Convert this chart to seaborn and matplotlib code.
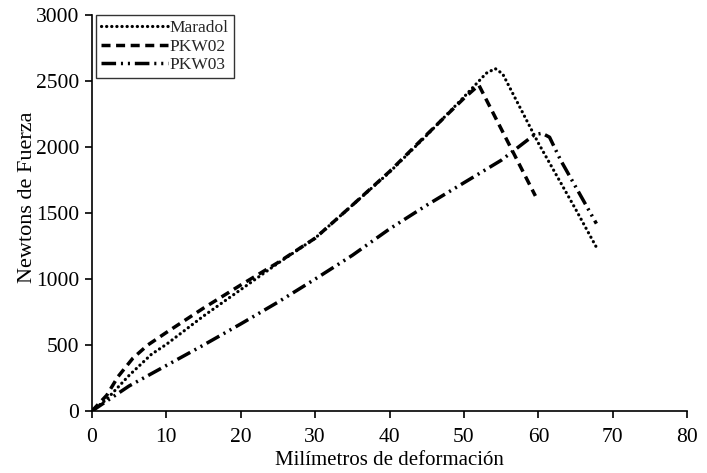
import matplotlib
matplotlib.use("Agg")
import matplotlib.pyplot as plt
import seaborn as sns
import pandas as pd

# Data
maradol_x = [0, 2, 5, 8, 10, 15, 20, 25, 30, 35, 40, 45, 50, 53, 54.2, 55.2, 60, 65, 68]
maradol_y = [0, 90, 270, 430, 505, 720, 920, 1120, 1310, 1560, 1810, 2090, 2380, 2560, 2595, 2555, 2030, 1530, 1220]

pkw02_x = [0, 2, 3.5, 5.5, 7.5, 10, 15, 20, 25, 30, 35, 40, 45, 50, 52, 59.6]
pkw02_y = [0, 120, 260, 400, 500, 595, 780, 955, 1125, 1310, 1560, 1815, 2095, 2370, 2470, 1630]

pkw03_x = [0, 5, 10, 15, 20, 25, 30, 35, 40, 45, 50, 55, 58, 59.5, 60.5, 61.5, 63, 67.8]
pkw03_y = [0, 190, 345, 500, 660, 825, 1000, 1180, 1380, 1560, 1730, 1900, 2030, 2095, 2105, 2075, 1900, 1420]

series_names = ["Maradol", "PKW02", "PKW03"]
x_ticks = [0, 10, 20, 30, 40, 50, 60, 70, 80]
y_ticks = [0, 500, 1000, 1500, 2000, 2500, 3000]

sns.set_theme(style="ticks")
plt.rcParams["font.family"] = ["Liberation Serif", "DejaVu Serif"]

fig = plt.figure(figsize=(7.07, 4.73), dpi=100)
ax = fig.add_axes([0.130, 0.131, 0.842, 0.837])

styles = {
    "Maradol": dict(linestyle=(0, (0.05, 1.55)), linewidth=2.3, dash_capstyle="round"),
    "PKW02": dict(linestyle=(0, (2.6, 1.6)), linewidth=2.5),
    "PKW03": dict(linestyle=(0, (4.2, 1.4, 0.6, 1.4, 0.6, 1.4)), linewidth=2.5),
}

data = [(maradol_x, maradol_y), (pkw02_x, pkw02_y), (pkw03_x, pkw03_y)]
for name, (xs, ys) in zip(series_names, data):
    df = pd.DataFrame({"x": xs, "y": ys})
    sns.lineplot(data=df, x="x", y="y", ax=ax, color="black", sort=False,
                 estimator=None, label=name, **styles[name])

ax.set_xlim(0, 80)
ax.set_ylim(0, 3000)
ax.set_xticks(x_ticks)
ax.set_yticks(y_ticks)
ax.tick_params(axis="both", direction="out", length=5, width=1.2, labelsize=15.5,
               color="black", labelcolor="black")
ax.tick_params(axis="x", pad=7)
ax.tick_params(axis="y", pad=4)
for s in ["top", "right"]:
    ax.spines[s].set_visible(False)
for s in ["left", "bottom"]:
    ax.spines[s].set_color("black")
    ax.spines[s].set_linewidth(1.2)

ax.set_xlabel("Milímetros de deformación", fontsize=15, color="black", labelpad=3)
ax.set_ylabel("Newtons de Fuerza", fontsize=16, color="black")
ax.yaxis.set_label_coords(-0.092, 0.54)

leg = ax.legend(loc="upper left", bbox_to_anchor=(0.007, 1.0), frameon=True,
                fancybox=False, edgecolor="black", fontsize=12.5, handlelength=3.85,
                handletextpad=0.1, borderpad=0.3, labelspacing=0.12, borderaxespad=0.0)
leg.get_frame().set_linewidth(1.0)

fig.savefig("out.png", dpi=100, facecolor="white")
